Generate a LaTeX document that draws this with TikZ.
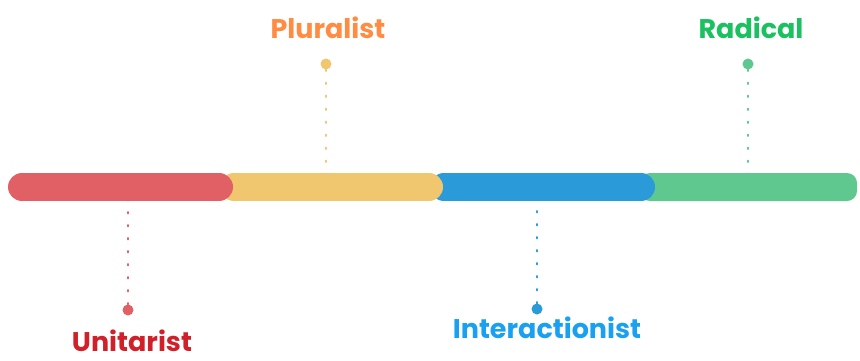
\documentclass[tikz,border=0pt]{standalone}
\usepackage{fontspec}
\setmainfont{Poppins}
\definecolor{cred}{HTML}{E06065}
\definecolor{cyel}{HTML}{F0C66E}
\definecolor{cblu}{HTML}{2A9AD8}
\definecolor{cgrn}{HTML}{5EC88E}
\definecolor{tred}{HTML}{D0202A}
\definecolor{tora}{HTML}{FF8C42}
\definecolor{tblu}{HTML}{1AA0F0}
\definecolor{tgrn}{HTML}{1BC060}
\begin{document}
\begin{tikzpicture}[x=1pt,y=-1pt,
  seg/.style={line width=28pt,line cap=round},
  dot/.style={circle,inner sep=0pt,minimum size=11pt,fill=#1},
  lead/.style={#1,line width=2.4pt,line cap=round,dash pattern=on 1.2pt off 11.8pt},
  lbl/.style={font=\fontsize{27}{31}\selectfont\bfseries,anchor=base,inner sep=0pt}]
\useasboundingbox (0,0) rectangle (860,360);
% leaders
\node[dot=cyel] (pd) at (326,64) {};
\node[dot=cgrn] (rd) at (748,64) {};
\node[dot=cred] (ud) at (128,310) {};
\node[dot=cblu] (id) at (537,309) {};
\coordinate (pb) at (326,187);
\coordinate (rb) at (748,187);
\coordinate (ub) at (128,187);
\coordinate (ib) at (537,187);
\draw[lead=cyel] (pd) -- (pb);
\draw[lead=cgrn] (rd) -- (rb);
\draw[lead=cred] (ud) -- (ub);
\draw[lead=cblu] (id) -- (ib);
% bar
\fill[cgrn,rounded corners=10pt] (640,173) rectangle (857,201);
\draw[seg,cblu] (444,187) -- (641,187);
\draw[seg,cyel] (234,187) -- (429,187);
\draw[seg,cred] (22,187) -- (219,187);
% labels
\node[lbl,text=tora] (pl) at (328,38) {Pluralist};
\node[lbl,text=tgrn] (rl) at (751,38) {Radical};
\node[lbl,text=tred] (ul) at (132,351) {Unitarist};
\node[lbl,text=tblu] (il) at (547,338) {Interactionist};
\end{tikzpicture}
\end{document}
